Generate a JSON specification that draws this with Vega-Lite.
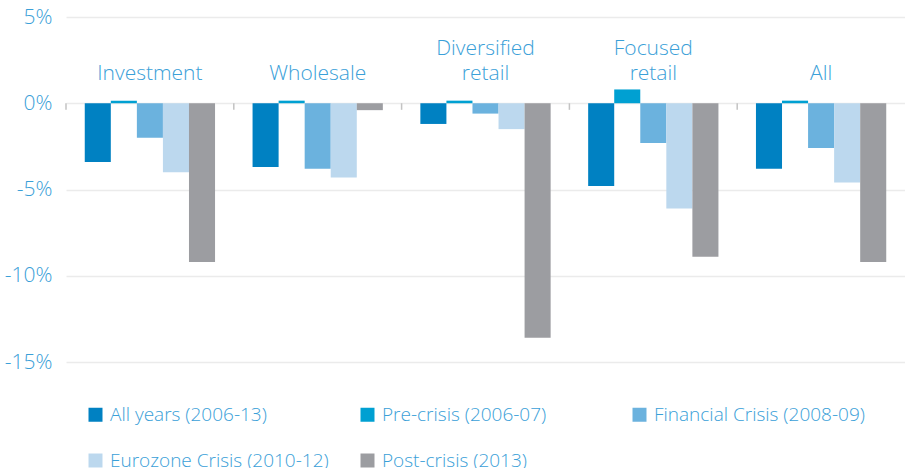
{
  "$schema": "https://vega.github.io/schema/vega-lite/v6.json",
  "width": 839,
  "height": 345,
  "autosize": {"type": "none"},
  "padding": {"left": 66, "top": 17, "right": 0, "bottom": 106},
  "background": "white",
  "config": {
    "view": {"stroke": null},
    "font": "Open Sans"
  },
  "datasets": {
    "bars": [
      {"group": "Investment", "series": "All years (2006-13)", "value": -3.4},
      {"group": "Investment", "series": "Pre-crisis (2006-07)", "value": 0.15},
      {"group": "Investment", "series": "Financial Crisis (2008-09)", "value": -2.0},
      {"group": "Investment", "series": "Eurozone Crisis (2010-12)", "value": -4.0},
      {"group": "Investment", "series": "Post-crisis (2013)", "value": -9.2},
      {"group": "Wholesale", "series": "All years (2006-13)", "value": -3.7},
      {"group": "Wholesale", "series": "Pre-crisis (2006-07)", "value": 0.15},
      {"group": "Wholesale", "series": "Financial Crisis (2008-09)", "value": -3.8},
      {"group": "Wholesale", "series": "Eurozone Crisis (2010-12)", "value": -4.3},
      {"group": "Wholesale", "series": "Post-crisis (2013)", "value": -0.4},
      {"group": "Diversified retail", "series": "All years (2006-13)", "value": -1.2},
      {"group": "Diversified retail", "series": "Pre-crisis (2006-07)", "value": 0.15},
      {"group": "Diversified retail", "series": "Financial Crisis (2008-09)", "value": -0.6},
      {"group": "Diversified retail", "series": "Eurozone Crisis (2010-12)", "value": -1.5},
      {"group": "Diversified retail", "series": "Post-crisis (2013)", "value": -13.6},
      {"group": "Focused retail", "series": "All years (2006-13)", "value": -4.8},
      {"group": "Focused retail", "series": "Pre-crisis (2006-07)", "value": 0.8},
      {"group": "Focused retail", "series": "Financial Crisis (2008-09)", "value": -2.3},
      {"group": "Focused retail", "series": "Eurozone Crisis (2010-12)", "value": -6.1},
      {"group": "Focused retail", "series": "Post-crisis (2013)", "value": -8.9},
      {"group": "All", "series": "All years (2006-13)", "value": -3.8},
      {"group": "All", "series": "Pre-crisis (2006-07)", "value": 0.15},
      {"group": "All", "series": "Financial Crisis (2008-09)", "value": -2.6},
      {"group": "All", "series": "Eurozone Crisis (2010-12)", "value": -4.6},
      {"group": "All", "series": "Post-crisis (2013)", "value": -9.2}
    ],
    "cats": [
      {"group": "Investment", "upper": "", "lower": "Investment"},
      {"group": "Wholesale", "upper": "", "lower": "Wholesale"},
      {"group": "Diversified retail", "upper": "Diversified", "lower": "retail"},
      {"group": "Focused retail", "upper": "Focused", "lower": "retail"},
      {"group": "All", "upper": "", "lower": "All"}
    ]
  },
  "encoding": {
    "x": {
      "field": "group",
      "type": "nominal",
      "sort": ["Investment", "Wholesale", "Diversified retail", "Focused retail", "All"],
      "scale": {"paddingInner": 0, "paddingOuter": 0},
      "axis": null
    }
  },
  "layer": [
    {
      "data": {"name": "bars"},
      "mark": {"type": "bar"},
      "encoding": {
        "xOffset": {
          "field": "series",
          "type": "nominal",
          "sort": ["All years (2006-13)", "Pre-crisis (2006-07)", "Financial Crisis (2008-09)", "Eurozone Crisis (2010-12)", "Post-crisis (2013)"],
          "scale": {"paddingInner": 0, "paddingOuter": 0.72}
        },
        "y": {
          "field": "value",
          "type": "quantitative",
          "scale": {"domain": [-15, 5], "nice": false},
          "axis": {
            "title": null,
            "values": [-15, -10, -5, 0, 5],
            "grid": true,
            "gridColor": "#ebebeb",
            "gridWidth": 1.5,
            "domain": false,
            "ticks": false,
            "tickSize": 0,
            "labelPadding": 14,
            "labelFont": "Open Sans",
            "labelFontWeight": 300,
            "labelFontSize": 21,
            "labelColor": "#3aa0d8",
            "labelExpr": "datum.value + '%'"
          }
        },
        "color": {
          "field": "series",
          "type": "nominal",
          "sort": ["All years (2006-13)", "Pre-crisis (2006-07)", "Financial Crisis (2008-09)", "Eurozone Crisis (2010-12)", "Post-crisis (2013)"],
          "scale": {
            "domain": ["All years (2006-13)", "Pre-crisis (2006-07)", "Financial Crisis (2008-09)", "Eurozone Crisis (2010-12)", "Post-crisis (2013)"],
            "range": ["#0081c2", "#00a0d2", "#6bb2de", "#bcd8ee", "#9c9da1"]
          },
          "legend": {
            "title": null,
            "orient": "none",
            "legendX": 20,
            "legendY": 388,
            "direction": "horizontal",
            "columns": 3,
            "gridAlign": "all",
            "columnPadding": 29,
            "rowPadding": 26,
            "padding": 0,
            "symbolType": "square",
            "symbolSize": 196,
            "symbolStrokeWidth": 0,
            "labelOffset": 5,
            "labelFont": "Open Sans",
            "labelFontWeight": 300,
            "labelFontSize": 19,
            "labelColor": "#3aa0d8",
            "labelLimit": 400
          }
        }
      }
    },
    {
      "mark": {"type": "rule", "color": "#c3c3c3", "strokeWidth": 2},
      "encoding": {"x": null, "y": {"datum": 0, "type": "quantitative"}}
    },
    {
      "data": {"name": "cats"},
      "mark": {"type": "rule", "color": "#c3c3c3", "strokeWidth": 1.5},
      "encoding": {
        "x": {"field": "group", "type": "nominal", "bandPosition": 0, "sort": ["Investment", "Wholesale", "Diversified retail", "Focused retail", "All"]},
        "y": {"datum": 0, "type": "quantitative"},
        "y2": {"datum": -0.38}
      }
    },
    {
      "data": {"name": "cats"},
      "mark": {
        "type": "text",
        "baseline": "alphabetic",
        "align": "center",
        "font": "Open Sans",
        "fontWeight": 300,
        "fontSize": 21,
        "color": "#3aa0d8"
      },
      "encoding": {
        "x": {"field": "group", "type": "nominal", "sort": ["Investment", "Wholesale", "Diversified retail", "Focused retail", "All"]},
        "y": {"datum": 1.35, "type": "quantitative"},
        "text": {"field": "lower"}
      }
    },
    {
      "data": {"name": "cats"},
      "mark": {
        "type": "text",
        "baseline": "alphabetic",
        "align": "center",
        "font": "Open Sans",
        "fontWeight": 300,
        "fontSize": 21,
        "color": "#3aa0d8"
      },
      "encoding": {
        "x": {"field": "group", "type": "nominal", "sort": ["Investment", "Wholesale", "Diversified retail", "Focused retail", "All"]},
        "y": {"datum": 2.8, "type": "quantitative"},
        "text": {"field": "upper"}
      }
    }
  ]
}
